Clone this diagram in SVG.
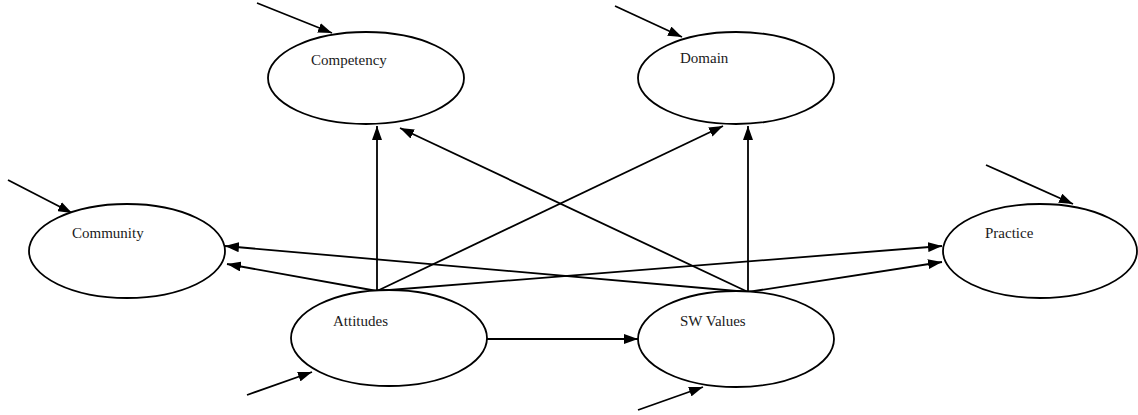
<svg xmlns="http://www.w3.org/2000/svg" width="1138" height="415" viewBox="0 0 1138 415">
  <style>
    .node ellipse { fill: #ffffff; stroke: #000000; stroke-width: 1.8; }
    .node text { font-family: "Liberation Serif", "Times New Roman", serif; font-size: 15px; fill: #1a1a1a; }
    .edge { stroke: #000000; stroke-width: 1.8; fill: none; marker-end: url(#head); }
  </style>
  <defs>
    <marker id="head" viewBox="0 0 14 10" refX="14" refY="5" markerWidth="14" markerHeight="10" markerUnits="userSpaceOnUse" orient="auto">
      <path d="M0,0 L14,5 L0,10 Z" fill="#000000"/>
    </marker>
  </defs>

  <rect width="1138" height="415" fill="#ffffff"/>

  <g id="connectors">
    <!-- external inputs -->
    <line class="edge" x1="257" y1="3" x2="332" y2="33"/>
    <line class="edge" x1="615" y1="6" x2="682" y2="37"/>
    <line class="edge" x1="8" y1="180" x2="72" y2="213"/>
    <line class="edge" x1="986" y1="165" x2="1073" y2="204"/>
    <line class="edge" x1="247" y1="395" x2="312" y2="372"/>
    <line class="edge" x1="638" y1="410" x2="703" y2="387"/>
    <!-- paths from Attitudes -->
    <line class="edge" x1="377" y1="291" x2="377" y2="126"/>
    <line class="edge" x1="377" y1="291" x2="723" y2="126"/>
    <line class="edge" x1="377" y1="291" x2="227" y2="264"/>
    <line class="edge" x1="377" y1="291" x2="942" y2="246"/>
    <line class="edge" x1="487" y1="339" x2="638" y2="339"/>
    <!-- paths from SW Values -->
    <line class="edge" x1="748" y1="292" x2="748" y2="126"/>
    <line class="edge" x1="748" y1="292" x2="400" y2="128"/>
    <line class="edge" x1="748" y1="292" x2="225" y2="246"/>
    <line class="edge" x1="748" y1="292" x2="942" y2="262"/>
  </g>

  <g id="competency" class="node">
    <ellipse cx="366" cy="78" rx="98" ry="46"/>
    <text x="311" y="65">Competency</text>
  </g>
  <g id="domain" class="node">
    <ellipse cx="736" cy="78" rx="98" ry="46"/>
    <text x="680" y="63">Domain</text>
  </g>
  <g id="community" class="node">
    <ellipse cx="127" cy="251" rx="98" ry="47"/>
    <text x="72" y="238">Community</text>
  </g>
  <g id="practice" class="node">
    <ellipse cx="1040" cy="251" rx="97" ry="47"/>
    <text x="985" y="238">Practice</text>
  </g>
  <g id="attitudes" class="node">
    <ellipse cx="389" cy="338" rx="98" ry="48"/>
    <text x="333" y="326">Attitudes</text>
  </g>
  <g id="sw-values" class="node">
    <ellipse cx="736" cy="339" rx="98" ry="48"/>
    <text x="680" y="326">SW Values</text>
  </g>
</svg>
